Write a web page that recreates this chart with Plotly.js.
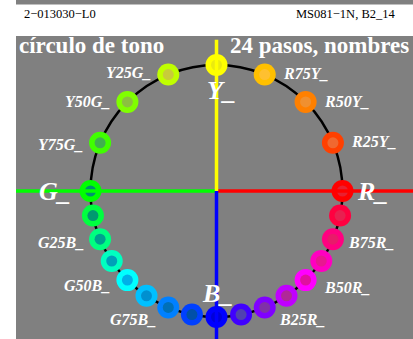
<!DOCTYPE html>
<html>
<head>
<meta charset="utf-8">
<script src="https://cdn.plot.ly/plotly-3.0.1.min.js"></script>
<style>html,body{margin:0;padding:0;background:#fff;}#chart{width:413px;height:339px;}</style>
</head>
<body>
<div id="chart"></div>
<script>
// ---- data ----
const hueAngles = [0, 22.5, 45, 67.5, 90, 112.5, 135, 157.5, 180, 191.25, 202.5, 213.75, 225, 236.25, 247.5, 258.75, 270, 281.25, 292.5, 303.75, 315, 326.25, 337.5, 348.75];
const hueNames = ['R_', 'R25Y_', 'R50Y_', 'R75Y_', 'Y_', 'Y25G_', 'Y50G_', 'Y75G_', 'G_', '', 'G25B_', '', 'G50B_', '', 'G75B_', '', 'B_', '', 'B25R_', '', 'B50R_', '', 'B75R_', ''];
const outerColors = ['#ff0000', '#ff4000', '#ff8000', '#ffc000', '#ffff00', '#c0ff00', '#80ff00', '#40ff00', '#00ff00', '#00ff40', '#00ff80', '#00ffc0', '#00ffff', '#00c0ff', '#0080ff', '#0040ff', '#0000ff', '#4000ff', '#8000ff', '#c000ff', '#ff00ff', '#ff00c0', '#ff0080', '#ff0040'];
const innerColors = ['#e82030', '#f06830', '#f09030', '#ffc030', '#eaea10', '#c8cc3a', '#8cc040', '#40b050', '#009070', '#009a70', '#00a090', '#00a0b8', '#00b0e8', '#0090d0', '#0070b8', '#0050a8', '#0000d8', '#5040b0', '#8030a8', '#b02898', '#e010a0', '#e81890', '#e81a6a', '#e82050'];
const headerLeft = '2\u2212013030\u2212L0';
const headerRight = 'MS081\u22121N, B2_14';
const titleLeft = 'círculo de tono';
const titleRight = '24 pasos, nombres';
const radius = 1;

// ---- styling ----
const W = 413, H = 339, ML = 16, MT = 36;
const PW = W - ML, PH = H - MT;
const scale = 126; // px per unit
const cx = 200.5, cy = 155; // centre offset inside plot area (px)
const xr = [-cx / scale, (PW - cx) / scale];
const yr = [-(PH - cy) / scale, cy / scale];
const px2paperX = p => (p - ML) / PW;
const py2paperY = p => (H - p) / PH;

const xs = hueAngles.map(a => radius * Math.cos(a * Math.PI / 180));
const ys = hueAngles.map(a => radius * Math.sin(a * Math.PI / 180));

const labelStyle = {
  'R_':   {big: true, xanchor: 'left', xshift: 12, yshift: 0},
  'G_':   {big: true, xanchor: 'right', xshift: -18, yshift: 0},
  'Y_':   {big: true, xanchor: 'center', xshift: 5, yshift: -25},
  'B_':   {big: true, xanchor: 'center', xshift: 1, yshift: 24},
  'R25Y_': {xanchor: 'left', xshift: 16, yshift: 1},
  'R50Y_': {xanchor: 'left', xshift: 16, yshift: 0},
  'R75Y_': {xanchor: 'left', xshift: 16, yshift: 1},
  'Y25G_': {xanchor: 'right', xshift: -15, yshift: 2},
  'Y50G_': {xanchor: 'right', xshift: -15, yshift: 0},
  'Y75G_': {xanchor: 'right', xshift: -15, yshift: -2},
  'G25B_': {xanchor: 'right', xshift: -14, yshift: -3},
  'G50B_': {xanchor: 'right', xshift: -15, yshift: -5},
  'G75B_': {xanchor: 'right', xshift: -10, yshift: -12},
  'B25R_': {xanchor: 'left', xshift: 12, yshift: -12},
  'B50R_': {xanchor: 'left', xshift: 16, yshift: -7},
  'B75R_': {xanchor: 'left', xshift: 13, yshift: -3}
};

const serif = 'Liberation Serif, Times New Roman, serif';
const annotations = [];
hueNames.forEach((n, i) => {
  if (!n) return;
  const s = labelStyle[n];
  annotations.push({
    xref: 'x', yref: 'y', x: xs[i], y: ys[i], text: n, showarrow: false,
    xanchor: s.xanchor, yanchor: 'middle', xshift: s.xshift, yshift: s.yshift,
    font: {family: serif, size: s.big ? 26 : 16, color: '#ffffff', weight: 'bold', style: 'italic'}
  });
});
annotations.push(
  {xref: 'paper', yref: 'paper', x: px2paperX(22), y: py2paperY(14), text: headerLeft, showarrow: false,
   xanchor: 'left', yanchor: 'middle', font: {family: serif, size: 12.5, color: '#000'}},
  {xref: 'paper', yref: 'paper', x: px2paperX(397), y: py2paperY(14), text: headerRight, showarrow: false,
   xanchor: 'right', yanchor: 'middle', font: {family: serif, size: 12.5, color: '#000'}},
  {xref: 'paper', yref: 'paper', x: px2paperX(17), y: py2paperY(46), text: titleLeft, showarrow: false,
   xanchor: 'left', yanchor: 'middle', font: {family: serif, size: 23, color: '#ffffff', weight: 'bold'}},
  {xref: 'paper', yref: 'paper', x: px2paperX(228), y: py2paperY(46), text: titleRight, showarrow: false,
   xanchor: 'left', yanchor: 'middle', font: {family: serif, size: 23, color: '#ffffff', weight: 'bold'}}
);

const shapes = [
  {type: 'rect', xref: 'paper', yref: 'paper', x0: 0, x1: 1, y0: py2paperY(4.5), y1: py2paperY(-2),
   fillcolor: '#808080', line: {width: 0}, layer: 'below'},
  {type: 'circle', xref: 'x', yref: 'y', x0: -radius, x1: radius, y0: -radius, y1: radius,
   line: {color: '#000000', width: 2.5}, layer: 'below'},
  {type: 'line', xref: 'x', yref: 'y', x0: xr[0] - 1, x1: 0, y0: 0, y1: 0, line: {color: '#00ff00', width: 3.5}, layer: 'above'},
  {type: 'line', xref: 'x', yref: 'y', x0: 0, x1: xr[1] + 1, y0: 0, y1: 0, line: {color: '#ff0000', width: 3.5}, layer: 'above'},
  {type: 'line', xref: 'x', yref: 'y', x0: 0, x1: 0, y0: 0, y1: 1.2, line: {color: '#ffff00', width: 3.5}, layer: 'above'},
  {type: 'line', xref: 'x', yref: 'y', x0: 0, x1: 0, y0: 0, y1: yr[0] - 1, line: {color: '#0000ff', width: 3.5}, layer: 'above'}
];

const traces = [
  {type: 'scatter', mode: 'markers', x: xs, y: ys, hoverinfo: 'skip',
   marker: {size: 22, color: outerColors, line: {width: 0}}, cliponaxis: false},
  {type: 'scatter', mode: 'markers', x: xs, y: ys, hoverinfo: 'skip',
   marker: {size: 11, color: innerColors, line: {width: 0}}, cliponaxis: false}
];

const axis = {showgrid: false, zeroline: false, showticklabels: false, showline: false, ticks: '', fixedrange: true};
const layout = {
  width: W, height: H,
  margin: {l: ML, r: 0, t: MT, b: 0, pad: 0},
  paper_bgcolor: '#ffffff', plot_bgcolor: '#808080',
  showlegend: false,
  xaxis: Object.assign({range: xr}, axis),
  yaxis: Object.assign({range: yr}, axis),
  shapes: shapes,
  annotations: annotations
};
Plotly.newPlot('chart', traces, layout, {displayModeBar: false, staticPlot: true});
</script>
</body>
</html>
